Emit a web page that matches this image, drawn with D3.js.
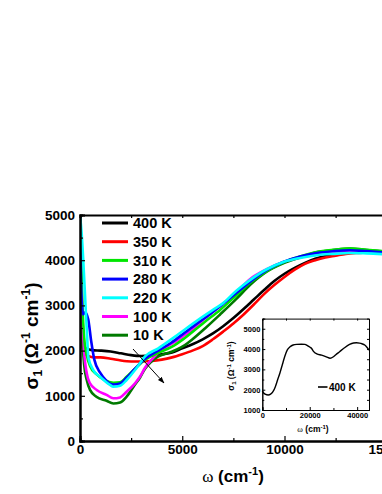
<!DOCTYPE html>
<html><head><meta charset="utf-8">
<script src="https://cdn.jsdelivr.net/npm/d3@7"></script>
<style>body{margin:0;background:#fff}svg{display:block}text{font-family:"Liberation Sans",Arial,sans-serif;font-weight:bold}</style>
</head><body><svg id="c" width="382" height="494"></svg>
<script>
const seriesNames = ["400 K","350 K","310 K","280 K","220 K","100 K","10 K"];
const seriesColors = ["#000000","#ff0000","#00e600","#0000ff","#00ffff","#ff00ff","#007a00"];
const s400 = [[0,2250],[100,2150],[300,2050],[600,2010],[1000,2000],[1500,1980],[2000,1940],[2500,1900],[3000,1880],[3500,1890],[4000,1920],[4500,1960],[5000,2050],[5500,2140],[6000,2250],[6500,2380],[7000,2540],[7500,2720],[8000,2920],[8500,3130],[9000,3340],[9500,3540],[10000,3700],[10500,3830],[11000,3940],[11500,4030],[12000,4090],[12500,4140],[13000,4170],[13500,4190],[14000,4200],[14500,4200],[15000,4190]];
const s350 = [[0,2300],[100,2100],[200,1950],[400,1880],[700,1850],[1000,1850],[1500,1820],[2000,1780],[2500,1760],[3000,1760],[3500,1770],[4000,1800],[4500,1850],[5000,1920],[5500,2000],[6000,2100],[6500,2250],[7000,2420],[7500,2600],[8000,2800],[8500,3020],[9000,3250],[9500,3450],[10000,3630],[10500,3790],[11000,3920],[11500,4000],[12000,4060],[12500,4100],[13000,4140],[13500,4160],[14000,4170],[14500,4180],[15000,4180]];
const s310 = [[0,5100],[60,4000],[120,3000],[200,2300],[330,1900],[500,1650],[800,1480],[1200,1350],[1630,1290],[1960,1300],[2280,1420],[2690,1600],[3180,1800],[3830,1950],[4480,2080],[5130,2280],[6110,2640],[6850,2900],[7660,3230],[8310,3500],[9130,3760],[9940,3950],[10760,4080],[11570,4180],[12390,4230],[13200,4260],[14020,4230],[15000,4190]];
const s280 = [[0,5000],[50,3500],[150,2800],[250,2850],[400,2700],[550,2200],[700,1800],[1000,1500],[1300,1330],[1630,1250],[1960,1270],[2280,1400],[2690,1600],[3180,1820],[3830,2000],[4480,2180],[5130,2400],[5780,2620],[6110,2720],[6850,2980],[7660,3280],[8310,3520],[9130,3780],[9940,3960],[10760,4080],[11570,4160],[12390,4200],[13200,4220],[14020,4200],[15000,4170]];
const s220 = [[0,5000],[80,4600],[160,4000],[270,3000],[350,2300],[410,1850],[650,1570],[980,1420],[1470,1240],[1630,1200],[1960,1220],[2280,1350],[2690,1570],[2930,1720],[3180,1870],[3830,2050],[4650,2310],[5780,2680],[6500,2900],[7000,3050],[7660,3330],[8310,3560],[9130,3800],[9940,3960],[10760,4050],[11570,4110],[12390,4140],[13200,4160],[14020,4150],[15000,4130]];
const s100 = [[0,5000],[100,3000],[200,2000],[330,1500],[490,1275],[815,1130],[1300,1020],[1630,945],[1960,965],[2280,1090],[2690,1275],[2930,1420],[3180,1620],[3500,1800],[3830,1950],[4650,2200],[5460,2455],[6110,2715],[6850,2980],[7660,3300],[8310,3580],[9130,3800],[9940,3960],[10760,4060],[11570,4120],[12390,4160],[13200,4180],[14020,4170],[15000,4150]];
const s10 = [[0,5100],[50,4000],[100,2500],[200,1700],[330,1350],[490,1130],[800,980],[1300,890],[1630,830],[1960,850],[2280,980],[2690,1250],[2930,1400],[3180,1600],[3500,1760],[3830,1870],[4480,1975],[5130,2120],[5500,2250],[6110,2490],[6850,2800],[7660,3150],[8310,3450],[9130,3745],[9940,3930],[10760,4060],[11570,4175],[12390,4225],[13200,4260],[14020,4225],[14770,4190],[15000,4180]];
const seriesData = [s400,s350,s310,s280,s220,s100,s10];
const drawOrder = [0,1,6,5,2,3,4];
const inset400 = [[0,1950],[500,1850],[1200,1780],[2500,1740],[3500,1780],[4500,1900],[5500,2150],[6500,2500],[7500,2850],[8500,3250],[9500,3650],[10500,3950],[11700,4110],[13000,4200],[14500,4230],[16500,4240],[18000,4230],[19000,4170],[20000,4100],[20800,4030],[21500,3900],[23000,3760],[25000,3700],[27000,3620],[28600,3545],[30000,3620],[31000,3720],[32600,3870],[34500,4050],[36800,4230],[38500,4300],[39700,4310],[41000,4290],[42000,4260],[43200,4200],[44200,4080],[45000,3950]];
const xTicks = [0,5000,10000,15000];
const yTicks = [0,1000,2000,3000,4000,5000];
const insetXTicks = [0,20000,40000];
const insetYTicks = [1000,2000,3000,4000,5000];

const svg = d3.select("#c");
const x = d3.scaleLinear().domain([0,15000]).range([80,386.75]);
const y = d3.scaleLinear().domain([0,5000]).range([441,215]);

const line = d3.line().x(d=>x(d[0])).y(d=>y(d[1])).curve(d3.curveMonotoneX);
svg.append("defs").append("clipPath").attr("id","pc").append("rect").attr("x",80).attr("y",215).attr("width",310).attr("height",226);
const cg = svg.append("g").attr("clip-path","url(#pc)");
drawOrder.forEach(i=>{
  cg.append("path").datum(seriesData[i]).attr("d",line).attr("fill","none")
    .attr("stroke",seriesColors[i]).attr("stroke-width",2.6).attr("stroke-linejoin","round");
});

function axes(g, xs, ys, xt, yt, xmin, ymin, len, mlen, fs, sw){
  const [x0,x1]=xs.range(), [y0,y1]=ys.range();
  const ax = g.append("g");
  const b = d3.axisBottom(xs).tickValues(xt).tickSize(-len).tickFormat(d3.format("d"));
  ax.append("g").attr("transform",`translate(0,${y0})`).call(b);
  const bm = d3.axisBottom(xs).tickValues(xmin).tickSize(-mlen).tickFormat("");
  ax.append("g").attr("transform",`translate(0,${y0})`).call(bm);
  const t = d3.axisTop(xs).tickValues(xt.concat(xmin)).tickSize(-mlen).tickFormat("");
  ax.append("g").attr("transform",`translate(0,${y1})`).call(t);
  const l = d3.axisLeft(ys).tickValues(yt).tickSize(-len).tickFormat(d3.format("d"));
  ax.append("g").attr("transform",`translate(${x0},0)`).call(l);
  const lm = d3.axisLeft(ys).tickValues(ymin).tickSize(-mlen).tickFormat("");
  ax.append("g").attr("transform",`translate(${x0},0)`).call(lm);
  const r = d3.axisRight(ys).tickValues(yt.concat(ymin)).tickSize(-mlen).tickFormat("");
  ax.append("g").attr("transform",`translate(${x1},0)`).call(r);
  ax.selectAll(".domain").attr("stroke","#000").attr("stroke-width",sw);
  ax.selectAll(".tick line").attr("stroke","#000").attr("stroke-width",Math.max(1,sw*0.6));
  ax.selectAll("text").attr("font-size",fs).attr("font-weight","bold").attr("fill","#000");
  return ax;
}
const mainAx = axes(svg, x, y, xTicks, yTicks, [2500,7500,12500], [500,1500,2500,3500,4500], 5, 3, 13.5, 2);
mainAx.selectAll("text").each(function(){
  const t=d3.select(this);
  if(t.attr("x")!==null && +t.attr("x")<0) t.attr("x",-5);
});

seriesNames.forEach((n,i)=>{
  const ly = 223 + i*18.7;
  svg.append("line").attr("x1",102).attr("x2",128).attr("y1",ly).attr("y2",ly).attr("stroke",seriesColors[i]).attr("stroke-width",3);
  svg.append("text").attr("x",133).attr("y",ly).attr("dy","0.36em").attr("font-size",14.5).text(n);
});

svg.append("defs").append("marker").attr("id","ah").attr("viewBox","0 0 10 10").attr("refX",9).attr("refY",5)
  .attr("markerWidth",7).attr("markerHeight",7).attr("orient","auto")
  .append("path").attr("d","M0,1.5L10,5L0,8.5Z").attr("fill","#000");
svg.append("line").attr("x1",133).attr("y1",349).attr("x2",164).attr("y2",383).attr("stroke","#000").attr("stroke-width",1).attr("marker-end","url(#ah)");

const yl = svg.append("text").attr("transform","translate(38,336) rotate(-90)").attr("text-anchor","middle").attr("font-size",19);
yl.append("tspan").text("σ");
yl.append("tspan").attr("font-size",12).attr("dy",4).text("1");
yl.append("tspan").attr("dy",-4).text(" (Ω");
yl.append("tspan").attr("font-size",12).attr("dy",-8).text("-1");
yl.append("tspan").attr("dy",8).text(" cm");
yl.append("tspan").attr("font-size",12).attr("dy",-8).text("-1");
yl.append("tspan").attr("dy",8).text(")");
const xl = svg.append("text").attr("x",233).attr("y",482).attr("text-anchor","middle").attr("font-size",17);
xl.append("tspan").attr("font-family","Liberation Serif").attr("font-weight","normal").text("ω");
xl.append("tspan").text(" (cm");
xl.append("tspan").attr("font-size",11).attr("dy",-7).text("-1");
xl.append("tspan").attr("dy",7).text(")");

const ix = d3.scaleLinear().domain([0,45000]).range([262.3,369]);
const iy = d3.scaleLinear().domain([1000,5500]).range([410,318.6]);
svg.append("rect").attr("x",262.3).attr("y",318.6).attr("width",369-262.3).attr("height",410-318.6).attr("fill","#fff");
const iline = d3.line().x(d=>ix(d[0])).y(d=>iy(d[1])).curve(d3.curveMonotoneX);
svg.append("path").datum(inset400).attr("d",iline).attr("fill","none").attr("stroke","#000").attr("stroke-width",1.4);
const inAx = axes(svg, ix, iy, insetXTicks, insetYTicks, [10000,30000], [1500,2500,3500,4500], 3, 2, 7.5, 1);
inAx.selectAll("text").each(function(){
  const t=d3.select(this);
  if(t.attr("x")!==null && +t.attr("x")<0) t.attr("x",-2);
  if(t.attr("y")!==null && +t.attr("y")>0) t.attr("y",3);
});
svg.append("line").attr("x1",318).attr("x2",327.5).attr("y1",387).attr("y2",387).attr("stroke","#000").attr("stroke-width",1.6);
svg.append("text").attr("x",329).attr("y",387).attr("dy","0.36em").attr("font-size",10).text("400 K");
const iyl = svg.append("text").attr("transform","translate(234,366) rotate(-90)").attr("text-anchor","middle").attr("font-size",8.5);
iyl.append("tspan").text("σ");
iyl.append("tspan").attr("font-size",6).attr("dy",2).text("1");
iyl.append("tspan").attr("dy",-2).text(" (Ω");
iyl.append("tspan").attr("font-size",6).attr("dy",-3.5).text("-1");
iyl.append("tspan").attr("dy",3.5).text(" cm");
iyl.append("tspan").attr("font-size",6).attr("dy",-3.5).text("-1");
iyl.append("tspan").attr("dy",3.5).text(")");
const ixl = svg.append("text").attr("x",313).attr("y",432).attr("text-anchor","middle").attr("font-size",8.5);
ixl.append("tspan").attr("font-family","Liberation Serif").attr("font-weight","normal").text("ω");
ixl.append("tspan").text(" (cm");
ixl.append("tspan").attr("font-size",6).attr("dy",-3.5).text("-1");
ixl.append("tspan").attr("dy",3.5).text(")");
</script></body></html>
